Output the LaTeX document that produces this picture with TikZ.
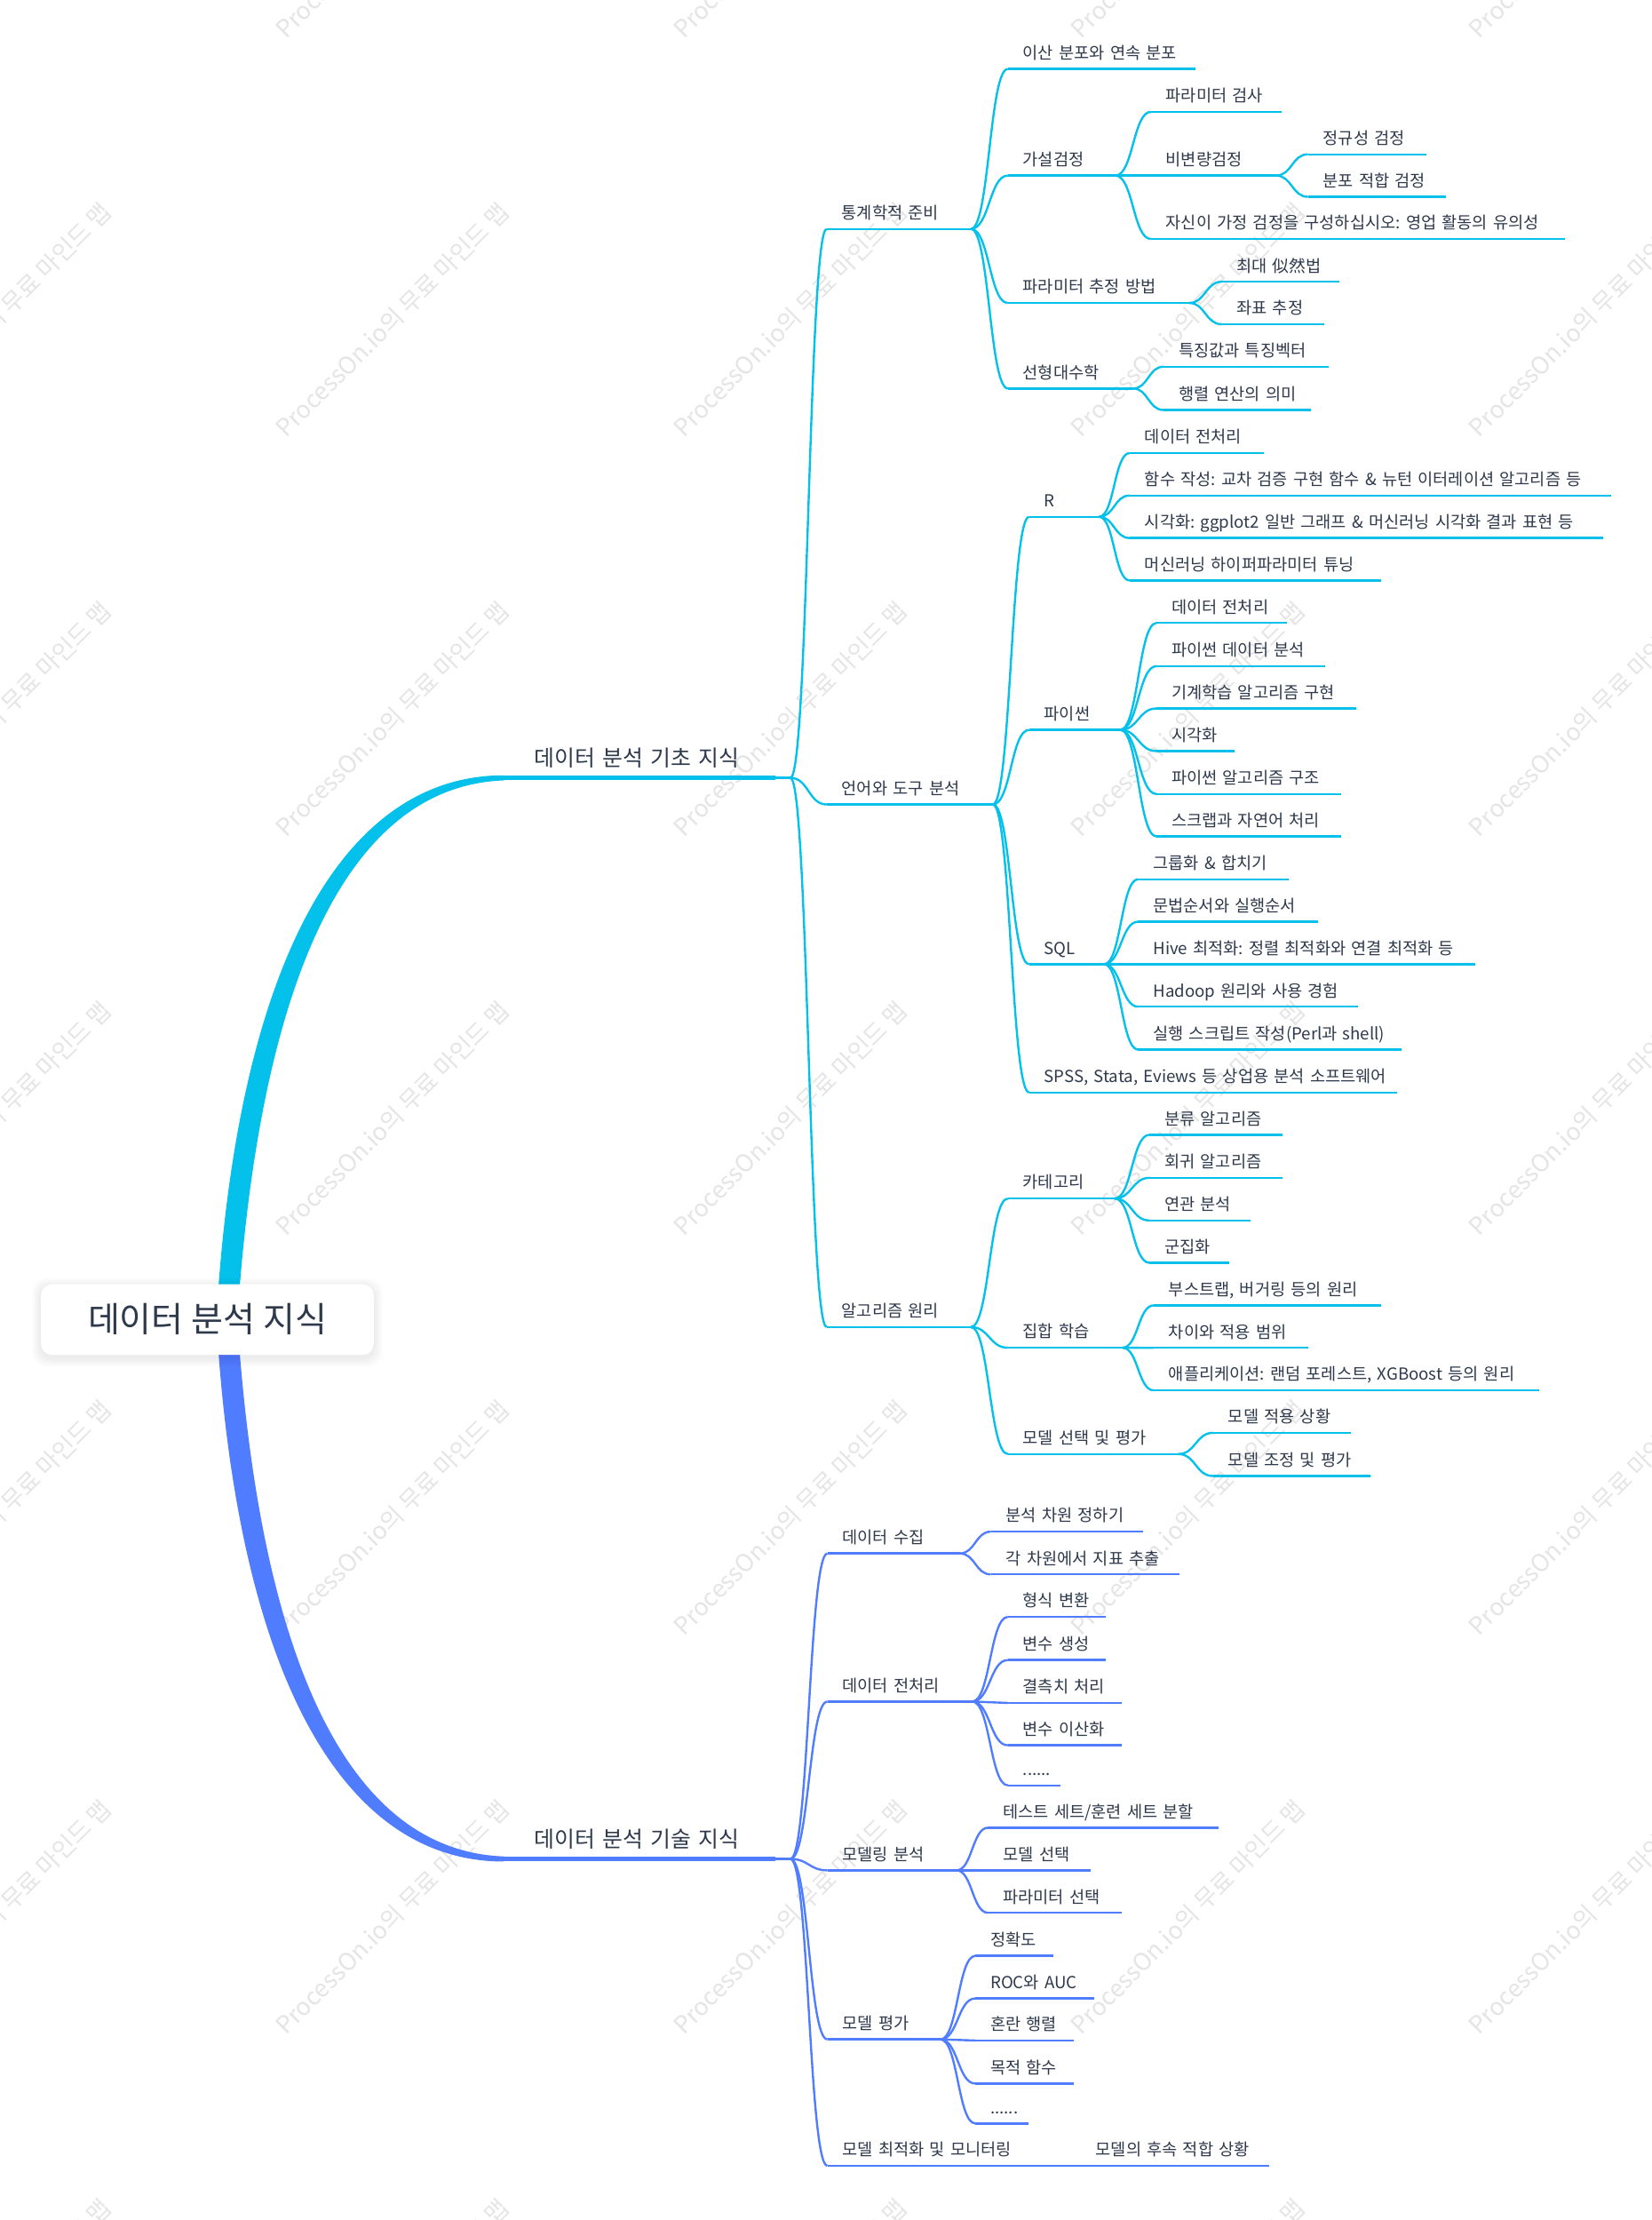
\documentclass[tikz,border=0pt]{standalone}
\usepackage{fontspec}
\setmainfont{Noto Sans CJK KR}
\usetikzlibrary{calc,backgrounds}
\definecolor{cy}{RGB}{3,193,235}
\definecolor{bl}{RGB}{80,124,255}
\definecolor{tx}{RGB}{46,57,76}
\definecolor{wmc}{RGB}{229,229,229}
\frenchspacing
\newcommand\lfs{\fontsize{11.7pt}{13pt}\selectfont}
\newcommand\mfs{\fontsize{15.6pt}{18pt}\selectfont}
\newcommand\rfs{\fontsize{24.5pt}{28pt}\selectfont}
\newcommand\wfs{\fontsize{17pt}{20pt}\selectfont}
\tikzset{
  leaf/.style={anchor=south west, inner xsep=10.5pt, inner ysep=0pt, text height=9pt, text depth=6.8pt, align=left, font=\lfs, text=tx},
  mainn/.style={anchor=south west, inner xsep=21.5pt, inner ysep=0pt, text height=12pt, text depth=8pt, align=left, font=\mfs, text=tx},
  rootn/.style={rounded corners=8pt, fill=white, minimum width=235pt, minimum height=50pt, inner sep=0pt, font=\rfs, text=tx},
  ul/.style={line width=1.5pt},
  conn/.style={line width=1.5pt, line join=round},
  wmark/.style={anchor=base west, rotate=45, inner sep=0pt, font=\wfs, text=wmc}
}
\newcommand\nd[6]{%
  \pgfmathsetmacro\ndtw{#4-#3-21}%
  \node[leaf, text width=\ndtw pt] (#2) at (#3,#5) {\mbox{#6}};%
  \draw[ul, draw=#1] (#2.south west) -- (#2.south east);%
}
\newcommand\cn[4][0]{%
  \draw[conn, draw=#2] let \p1=(#3.south east), \p2=(#4.south west), \n1={0.5*(\x2-\x1-#1)} in (\p1) -- (\x1+#1,\y1) .. controls (\x1+#1+\n1,\y1) and (\x2-\n1,\y2) .. (\p2);%
}
\begin{document}
\begin{tikzpicture}[x=1pt,y=-1pt]
\useasboundingbox (0,0) rectangle (1167,1568);
% root and main branches
\node[rootn] (root) at (146.5,932) {데이터 분석 지식};
\node[mainn, text width=148.4pt] (m1) at (356,549.4) {\mbox{데이터 분석 기초 지식}};
\draw[line width=3.5pt, cy] (m1.south west) -- (m1.south east);
\node[mainn, text width=148.4pt] (m2) at (356,1313) {\mbox{데이터 분석 기술 지식}};
\draw[line width=3.5pt, bl] (m2.south west) -- (m2.south east);
% ---------- cyan tree ----------
\nd{cy}{a1}{584}{685.5}{161.7}{통계학적 준비}
\nd{cy}{a2}{584}{701}{568.2}{언어와 도구 분석}
\nd{cy}{a3}{584}{685.5}{937.3}{알고리즘 원리}
\nd{cy}{b1}{712}{844}{48.7}{이산 분포와 연속 분포}
\nd{cy}{b2}{712}{787.6}{124}{가설검정}
\nd{cy}{b3}{712}{839.7}{214}{파라미터 추정 방법}
\nd{cy}{b4}{712}{800}{274.4}{선형대수학}
\nd{cy}{c1}{813}{905}{79}{파라미터 검사}
\nd{cy}{c2}{813}{901}{124}{비변량검정}
\nd{cy}{c3}{813}{1105}{168.8}{자신이 가정 검정을 구성하십시오: 영업 활동의 유의성}
\nd{cy}{d1}{924}{1007}{109}{정규성 검정}
\nd{cy}{d2}{924}{1021}{139}{분포 적합 검정}
\nd{cy}{c4}{863}{946}{199}{최대 似然법}
\nd{cy}{c5}{863}{935}{229}{좌표 추정}
\nd{cy}{c6}{822}{938}{259}{특징값과 특징벡터}
\nd{cy}{c7}{822}{926}{289.6}{행렬 연산의 의미}
\nd{cy}{b5}{727}{776}{365}{R}
\nd{cy}{b6}{727}{791}{515.5}{파이썬}
\nd{cy}{b7}{727}{779.6}{681}{SQL}
\nd{cy}{b8}{727}{986.5}{771.6}{SPSS, Stata, Eviews 등 상업용 분석 소프트웨어}
\nd{cy}{r1}{798}{892.5}{320}{데이터 전처리}
\nd{cy}{r2}{798}{1137.6}{350}{함수 작성: 교차 검증 구현 함수 \& 뉴턴 이터레이션 알고리즘 등}
\nd{cy}{r3}{798}{1132.4}{380}{시각화: ggplot2 일반 그래프 \& 머신러닝 시각화 결과 표현 등}
\nd{cy}{r4}{798}{975}{410}{머신러닝 하이퍼파라미터 튜닝}
\nd{cy}{p1}{817}{909}{440}{데이터 전처리}
\nd{cy}{p2}{817}{935.7}{470.5}{파이썬 데이터 분석}
\nd{cy}{p3}{817}{958}{500.4}{기계학습 알고리즘 구현}
\nd{cy}{p4}{817}{871.8}{530.5}{시각화}
\nd{cy}{p5}{817}{947}{560.8}{파이썬 알고리즘 구조}
\nd{cy}{p6}{817}{947}{590.8}{스크랩과 자연어 처리}
\nd{cy}{s1}{804}{910}{621}{그룹화 \& 합치기}
\nd{cy}{s2}{804}{931}{651}{문법순서와 실행순서}
\nd{cy}{s3}{804}{1042}{681}{Hive 최적화: 정렬 최적화와 연결 최적화 등}
\nd{cy}{s4}{804}{959}{711}{Hadoop 원리와 사용 경험}
\nd{cy}{s5}{804}{990}{741.3}{실행 스크립트 작성(Perl과 shell)}
\nd{cy}{b9}{712}{787}{846.5}{카테고리}
\nd{cy}{b10}{712}{792.6}{951.9}{집합 학습}
\nd{cy}{b11}{712}{832}{1027}{모델 선택 및 평가}
\nd{cy}{k1}{812}{905.6}{801.5}{분류 알고리즘}
\nd{cy}{k2}{812}{905.6}{831.9}{회귀 알고리즘}
\nd{cy}{k3}{812}{883}{862}{연관 분석}
\nd{cy}{k4}{812}{868}{891.9}{군집화}
\nd{cy}{g1}{815}{975}{922}{부스트랩, 버거링 등의 원리}
\nd{cy}{g2}{815}{924}{952}{차이와 적용 범위}
\nd{cy}{g3}{815}{1087}{982}{애플리케이션: 랜덤 포레스트, XGBoost 등의 원리}
\nd{cy}{v1}{857}{953.8}{1012}{모델 적용 상황}
\nd{cy}{v2}{857}{967.7}{1042.5}{모델 조정 및 평가}
% ---------- blue tree ----------
\nd{bl}{e1}{584.5}{677.6}{1097.2}{데이터 수집}
\nd{bl}{e2}{584.5}{686.5}{1201.8}{데이터 전처리}
\nd{bl}{e3}{584.5}{675.3}{1321}{모델링 분석}
\nd{bl}{e4}{584.5}{664}{1440.4}{모델 평가}
\nd{bl}{e5}{584.5}{726.8}{1529.7}{모델 최적화 및 모니터링}
\nd{bl}{f1}{700}{807}{1081.8}{분석 차원 정하기}
\nd{bl}{f2}{700}{832.8}{1112}{각 차원에서 지표 추출}
\nd{bl}{f3}{712}{781}{1142}{형식 변환}
\nd{bl}{f4}{712}{781}{1172.5}{변수 생성}
\nd{bl}{f5}{712}{792.3}{1202.8}{결측치 처리}
\nd{bl}{f6}{712}{792.3}{1232.7}{변수 이산화}
\nd{bl}{f7}{712}{749}{1261}{......}
\nd{bl}{f8}{698}{860.6}{1290.9}{테스트 세트/훈련 세트 분할}
\nd{bl}{f9}{698}{769.8}{1321}{모델 선택}
\nd{bl}{f10}{698}{792.3}{1351}{파라미터 선택}
\nd{bl}{f11}{689}{743.7}{1381.4}{정확도}
\nd{bl}{f12}{689}{772.8}{1411.5}{ROC와 AUC}
\nd{bl}{f13}{689}{758.2}{1441.2}{혼란 행렬}
\nd{bl}{f14}{689}{758.2}{1471.6}{목적 함수}
\nd{bl}{f15}{689}{726.4}{1499.8}{......}
\nd{bl}{f16}{763.4}{896}{1529.7}{모델의 후속 적합 상황}
% ---------- connectors ----------
\foreach \c in {a1,a2,a3}{\cn[10.6]{cy}{m1}{\c}}
\foreach \c in {b1,b2,b3,b4}{\cn{cy}{a1}{\c}}
\foreach \c in {c1,c2,c3}{\cn{cy}{b2}{\c}}
\foreach \c in {d1,d2}{\cn{cy}{c2}{\c}}
\foreach \c in {c4,c5}{\cn{cy}{b3}{\c}}
\foreach \c in {c6,c7}{\cn{cy}{b4}{\c}}
\foreach \c in {b5,b6,b7,b8}{\cn{cy}{a2}{\c}}
\foreach \c in {r1,r2,r3,r4}{\cn{cy}{b5}{\c}}
\foreach \c in {p1,p2,p3,p4,p5,p6}{\cn{cy}{b6}{\c}}
\foreach \c in {s1,s2,s3,s4,s5}{\cn{cy}{b7}{\c}}
\foreach \c in {b9,b10,b11}{\cn{cy}{a3}{\c}}
\foreach \c in {k1,k2,k3,k4}{\cn{cy}{b9}{\c}}
\foreach \c in {g1,g2,g3}{\cn{cy}{b10}{\c}}
\foreach \c in {v1,v2}{\cn{cy}{b11}{\c}}
\foreach \c in {e1,e2,e3,e4,e5}{\cn[10.6]{bl}{m2}{\c}}
\foreach \c in {f1,f2}{\cn{bl}{e1}{\c}}
\foreach \c in {f3,f4,f5,f6,f7}{\cn{bl}{e2}{\c}}
\foreach \c in {f8,f9,f10}{\cn{bl}{e3}{\c}}
\foreach \c in {f11,f12,f13,f14,f15}{\cn{bl}{e4}{\c}}
\cn{bl}{e5}{f16}
% ---------- background: watermarks, thick branches, shadow ----------
\begin{pgfonlayer}{background}
\fill[white] (0,0) rectangle (1167,1568);
\foreach \i [count=\ci] in {-79,202,483,764,1045}{
  \foreach \j [count=\cj] in {28,310,592,874,1156,1438,1720}{
    \node[wmark] (wm\ci x\cj) at (\i,\j) {ProcessOn.io의 무료 마인드 맵};
  }
}
\fill[cy] ($(root.north)+(8,25)$) -- ($(root.north)+(8,0)$)
  .. controls ($(root.north)+(25.5,-229)$) and ($(m1.south west)+(-113,-1.8)$) .. ($(m1.south west)+(0,-1.8)$)
  -- ($(m1.south west)+(0,1.8)$)
  .. controls ($(m1.south west)+(-106,5.6)$) and ($(root.north)+(41.5,-225)$) .. ($(root.north)+(23,0)$)
  -- ($(root.north)+(23,25)$) -- cycle;
\fill[bl] ($(root.south)+(8,-25)$) -- ($(root.south)+(8,0)$)
  .. controls ($(root.south)+(25.5,229)$) and ($(m2.south west)+(-113,1.8)$) .. ($(m2.south west)+(0,1.8)$)
  -- ($(m2.south west)+(0,-1.8)$)
  .. controls ($(m2.south west)+(-106,-5.6)$) and ($(root.south)+(41.5,225)$) .. ($(root.south)+(23,0)$)
  -- ($(root.south)+(23,-25)$) -- cycle;
\foreach \s in {1,...,6}{
  \fill[black, opacity=0.012, rounded corners=10pt] ($(root.south west)+(-\s,2+\s)$) rectangle ($(root.north east)+(\s,2-\s)$);
}
\end{pgfonlayer}
\end{tikzpicture}
\end{document}
